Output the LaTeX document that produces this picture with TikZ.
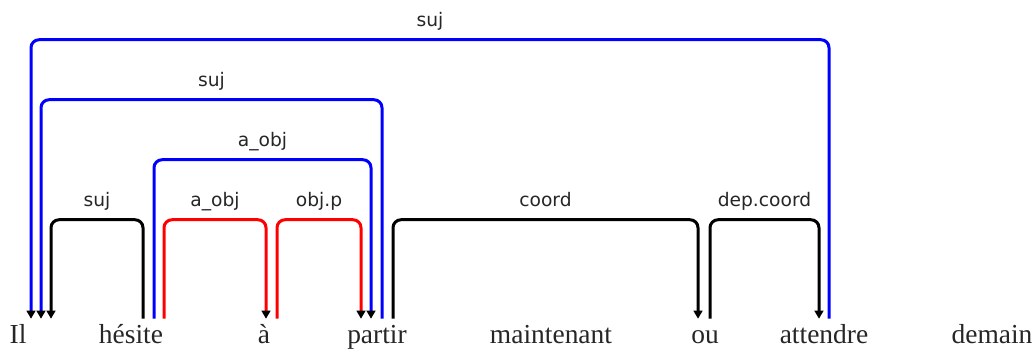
\documentclass[tikz,border=0pt]{standalone}
\usepackage{fontspec}
\setmainfont{Liberation Serif}
\newfontfamily\lblfont{DejaVu Sans}
\usetikzlibrary{arrows.meta,calc}

\begin{document}
\begin{tikzpicture}[x=0.75pt, y=-0.75pt,
      word/.style={anchor=base, inner sep=0pt, text height=18pt,
                   text=black!85, font=\fontsize{20.6}{24}\selectfont},
      dep/.style={line width=2.25pt, rounded corners=6pt,
                  -{Triangle[length=6pt,width=6.5pt,color=black]}},
      lbl/.style={pos=0.25, above=6pt, inner sep=0pt, text depth=3pt,
                  text=black!85, font=\lblfont\fontsize{14}{16}\selectfont}
    ]
      \useasboundingbox (0,0) rectangle (1035,351);

      % Words
      \node[word] (il)  at (18,343)  {Il};
      \node[word] (hes) at (131,343) {hésite};
      \node[word] (a)   at (264,343) {à};
      \node[word] (par) at (377,343) {partir};
      \node[word] (mai) at (551,343) {maintenant};
      \node[word] (ou)  at (705,343) {ou};
      \node[word] (att) at (824,343) {attendre};
      \node[word] (dem) at (992,343) {demain};

      % Blue arcs
      \draw[dep, blue] ($(att.north)+(5,0)$) -- ++(0,-279) -| ($(il.north)+(13,0)$) node[lbl] {suj};
      \draw[dep, blue] ($(par.north)+(5,0)$) -- ++(0,-219) -| ($(il.north)+(23,0)$) node[lbl] {suj};
      \draw[dep, blue] ($(hes.north)+(23,0)$) -- ++(0,-159) -| ($(par.north)+(-6,0)$) node[lbl] {a\_obj};

      % Red arcs
      \draw[dep, red] ($(hes.north)+(33,0)$) -- ++(0,-99) -| ($(a.north)+(2,0)$) node[lbl] {a\_obj};
      \draw[dep, red] ($(a.north)+(13,0)$) -- ++(0,-99) -| ($(par.north)+(-16,0)$) node[lbl] {obj.p};

      % Black arcs
      \draw[dep] ($(hes.north)+(12,0)$) -- ++(0,-99) -| ($(il.north)+(33,0)$) node[lbl] {suj};
      \draw[dep] ($(par.north)+(16,0)$) -- ++(0,-99) -| ($(ou.north)+(-7,0)$) node[lbl] {coord};
      \draw[dep] ($(ou.north)+(5,0)$) -- ++(0,-99) -| ($(att.north)+(-5,0)$) node[lbl] {dep.coord};
    \end{tikzpicture}
\end{document}
